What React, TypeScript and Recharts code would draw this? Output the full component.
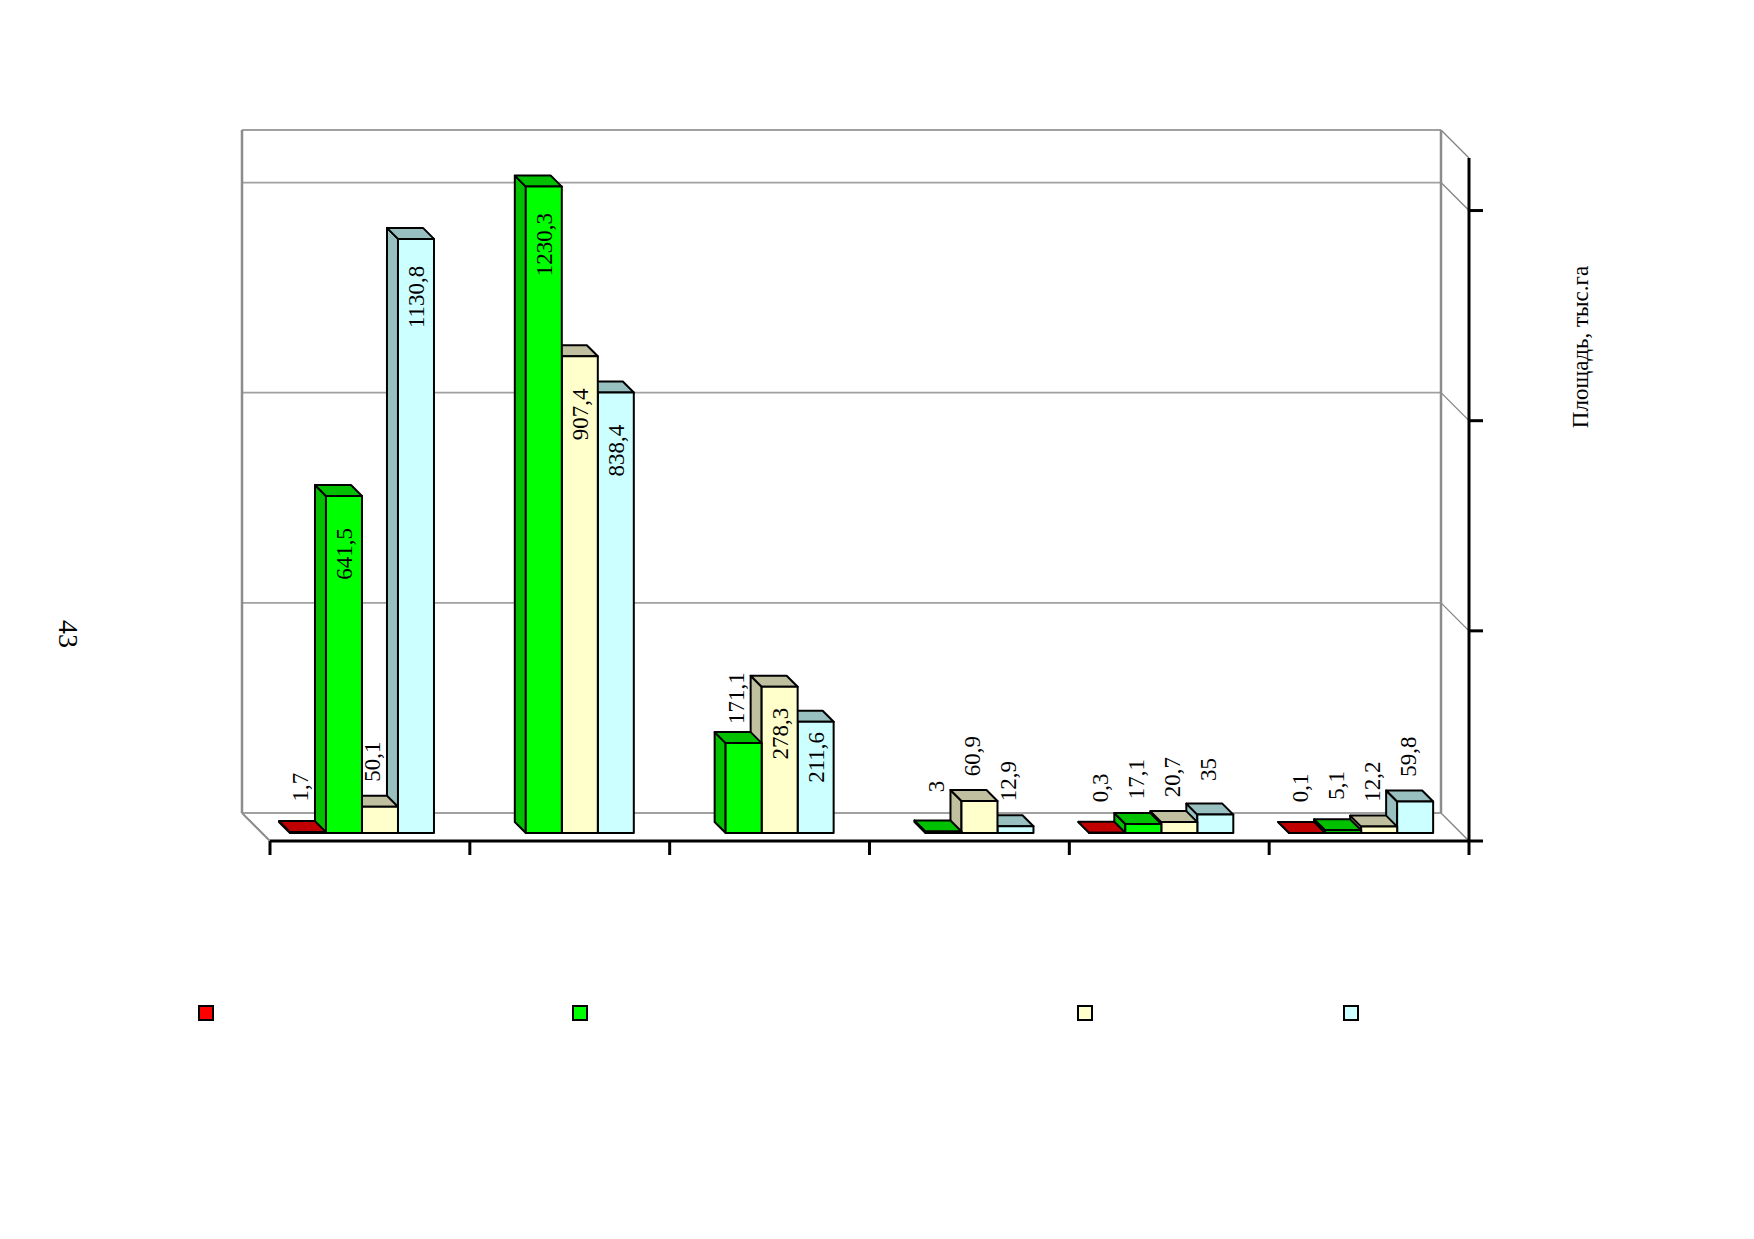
import { BarChart, Bar, XAxis, YAxis, CartesianGrid, LabelList } from 'recharts'

// категории (подписей на оси нет)
const categories = ['1', '2', '3', '4', '5', '6']

// значения рядов, тыс. га
const seriesRed = [1.7, null, null, null, 0.3, 0.1]
const seriesGreen = [641.5, 1230.3, 171.1, 3, 17.1, 5.1]
const seriesYellow = [50.1, 907.4, 278.3, 60.9, 20.7, 12.2]
const seriesCyan = [1130.8, 838.4, 211.6, 12.9, 35, 59.8]

const yTicks = [0, 400, 800, 1200, 1300]

const data = categories.map((c, i) => ({
  cat: c,
  red: seriesRed[i],
  green: seriesGreen[i],
  yellow: seriesYellow[i],
  cyan: seriesCyan[i],
}))

const FONT = '"Liberation Serif", "Times New Roman", serif'
const WALL = 28 // глубина задней стенки
const SHIFT = 8 // сдвиг передней грани столбца
const DEPTH = 11 // глубина столбца

const fmt = (v: number) => String(v).replace('.', ',')

// slot: сдвиг столбца в группе (ряды рисуются в обратном порядке)
function make3DBar(front: string, dark: string, slot: number) {
  return (p: any) => {
    const { x, y, width: w, height: h } = p
    if (h == null || isNaN(h) || x == null) return <g />
    const fx = x + slot * w - SHIFT
    const fy = y - SHIFT
    const d = DEPTH
    const top = `${fx},${fy} ${fx - d},${fy - d} ${fx + w - d},${fy - d} ${fx + w},${fy}`
    const side = `${fx},${fy} ${fx - d},${fy - d} ${fx - d},${fy + h - d} ${fx},${fy + h}`
    return (
      <g stroke="#000" strokeWidth={2} strokeLinejoin="round">
        <polygon points={side} fill={dark} />
        <polygon points={top} fill={dark} />
        <rect x={fx} y={fy} width={w} height={Math.max(h, 0)} fill={front} />
      </g>
    )
  }
}

function makeLabel(slot: number) {
  return (p: any) => {
    const vb = p.viewBox ?? p
    const { x, y, width: w, height: h } = vb
    if (p.value == null || x == null) return null
    const cx = x + slot * w - SHIFT + w / 2
    const top = y - SHIFT
    const inside = h > 100
    const lx = inside ? cx + 1 : cx - 7
    const ly = inside ? top + Math.min(58, 0.32 * h) : top - 45
    return (
      <text
        x={lx}
        y={ly}
        transform={`rotate(-90 ${lx} ${ly})`}
        textAnchor="middle"
        dominantBaseline="central"
        fontSize={23}
        fontFamily={FONT}
        fill="#000"
      >
        {fmt(p.value)}
      </text>
    )
  }
}

// задняя стенка: горизонтальные линии сетки со сдвигом и диагонали справа
const wallHorizontal = (p: any) => (
  <g key={`h-${p.index}`}>
    <line x1={p.x1 - WALL} y1={p.y1 - WALL} x2={p.x2 - WALL} y2={p.y2 - WALL} stroke="#a0a0a0" strokeWidth={1.8} />
    <line x1={p.x2 - WALL} y1={p.y1 - WALL} x2={p.x2} y2={p.y2} stroke="#808080" strokeWidth={1.2} />
  </g>
)

// боковые края стенки: только левая и правая границы области построения
const wallEdges = ({ offset }: any) => [offset.left, offset.left + offset.width]

const wallVertical = (p: any) => {
  if (p.index === 0) {
    return (
      <g key="v-left">
        <line x1={p.x1 - WALL} y1={p.y1 - WALL} x2={p.x1 - WALL} y2={p.y2 - WALL} stroke="#8c8c8c" strokeWidth={2.5} />
        <line x1={p.x1 - WALL} y1={p.y2 - WALL} x2={p.x1} y2={p.y2} stroke="#8c8c8c" strokeWidth={2} />
      </g>
    )
  }
  return (
    <line key={`v-${p.index}`} x1={p.x1 - WALL} y1={p.y1 - WALL} x2={p.x1 - WALL} y2={p.y2 - WALL} stroke="#8c8c8c" strokeWidth={2.5} />
  )
}

// засечки оси X на границах категорий
const xTick = (p: any) => {
  const off = p.payload?.offset ?? p.width / (2 * (p.visibleTicksCount || categories.length))
  const c = p.payload?.coordinate ?? p.x
  const last = p.index === (p.visibleTicksCount || categories.length) - 1
  return (
    <g stroke="#000" strokeWidth={3}>
      <line x1={c - off} y1={p.y - 14} x2={c - off} y2={p.y} />
      {last && <line x1={c + off} y1={p.y - 14} x2={c + off} y2={p.y} />}
    </g>
  )
}

const yTick = (p: any) => {
  if (p.payload?.value === 1300) return <g />
  return <line x1={p.x - 14} y1={p.y} x2={p.x} y2={p.y} stroke="#000" strokeWidth={3} />
}

const legendItems = [
  { color: '#ff0000', x: 205 },
  { color: '#00ff00', x: 579 },
  { color: '#ffffcc', x: 1084 },
  { color: '#ccffff', x: 1350 },
]

export default function App() {
  return (
    <div style={{ position: 'absolute', left: 0, top: 0, width: 1754, height: 1239, background: '#fff' }}>
      <div
        style={{
          position: 'absolute',
          left: 68,
          top: 634,
          transform: 'translate(-50%, -50%) rotate(90deg)',
          fontFamily: FONT,
          fontSize: 28,
          lineHeight: 1,
        }}
      >
        43
      </div>
      <BarChart
        width={1754}
        height={1239}
        data={data}
        margin={{ top: 158, right: 265, bottom: 378, left: 270 }}
        barCategoryGap="14%"
        barGap={0}
      >
        <CartesianGrid
          horizontal={wallHorizontal}
          vertical={wallVertical}
          verticalCoordinatesGenerator={wallEdges}
        />
        <XAxis
          dataKey="cat"
          interval={0}
          height={20}
          tickSize={14}
          tickMargin={0}
          tickLine={false}
          tick={xTick}
          axisLine={{ stroke: '#000', strokeWidth: 3 }}
        />
        <YAxis
          orientation="right"
          domain={[0, 1300]}
          ticks={yTicks}
          interval={0}
          allowDataOverflow
          width={20}
          tickSize={14}
          tickMargin={0}
          tickLine={false}
          tick={yTick}
          axisLine={{ stroke: '#000', strokeWidth: 3 }}
          label={{
            content: (p: any) => {
              const vb = p.viewBox
              const lx = vb.x + 111
              const ly = vb.y + 189
              return (
                <text
                  x={lx}
                  y={ly}
                  transform={`rotate(-90 ${lx} ${ly})`}
                  textAnchor="middle"
                  dominantBaseline="central"
                  fontSize={23}
                  fontFamily={FONT}
                  fill="#000"
                >
                  Площадь, тыс.га
                </text>
              )
            },
          }}
        />
        <Bar dataKey="cyan" isAnimationActive={false} shape={make3DBar('#ccffff', '#99c0c0', 3)}>
          <LabelList dataKey="cyan" content={makeLabel(3)} />
        </Bar>
        <Bar dataKey="yellow" isAnimationActive={false} shape={make3DBar('#ffffcc', '#c0c0a0', 1)}>
          <LabelList dataKey="yellow" content={makeLabel(1)} />
        </Bar>
        <Bar dataKey="green" isAnimationActive={false} shape={make3DBar('#00ff00', '#00c000', -1)}>
          <LabelList dataKey="green" content={makeLabel(-1)} />
        </Bar>
        <Bar dataKey="red" isAnimationActive={false} shape={make3DBar('#ff0000', '#c00000', -3)}>
          <LabelList dataKey="red" content={makeLabel(-3)} />
        </Bar>
      </BarChart>
      {legendItems.map(it => (
        <div
          key={it.x}
          style={{
            position: 'absolute',
            left: it.x - 7,
            top: 1005,
            width: 12,
            height: 12,
            border: '2px solid #000',
            background: it.color,
          }}
        />
      ))}
    </div>
  )
}
